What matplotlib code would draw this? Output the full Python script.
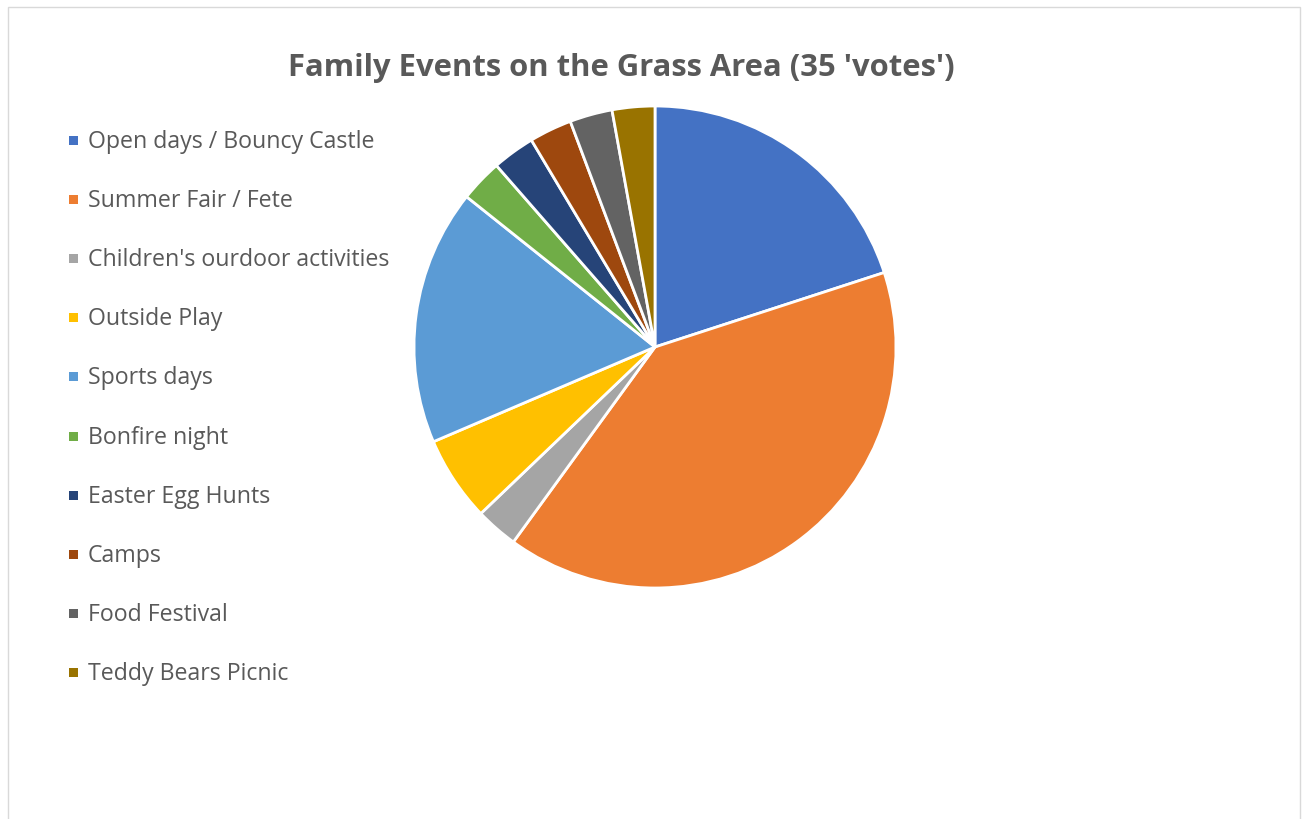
import matplotlib.pyplot as plt
from matplotlib.patches import Rectangle

# vote counts per event (35 in total)
labels = [
    "Open days / Bouncy Castle",
    "Summer Fair / Fete",
    "Children's ourdoor activities",
    "Outside Play",
    "Sports days",
    "Bonfire night",
    "Easter Egg Hunts",
    "Camps",
    "Food Festival",
    "Teddy Bears Picnic",
]
votes = [7, 14, 1, 2, 6, 1, 1, 1, 1, 1]
colors = ["#4472C4", "#ED7D31", "#A5A5A5", "#FFC000", "#5B9BD5",
          "#70AD47", "#264478", "#9E480E", "#636363", "#997300"]

W, H = 1308, 819
fig = plt.figure(figsize=(W / 100, H / 100), dpi=100)
plt.rcParams['font.family'] = ['Open Sans', 'DejaVu Sans']

# chart frame
fig.add_artist(Rectangle((8 / W, -0.01), 1292 / W, 1 - 7 / H + 0.01,
                         transform=fig.transFigure, fill=False,
                         edgecolor="#D9D9D9", linewidth=1))

# pie, centred at (655, 347) px with ~240 px radius
cx, cy, r = 655, 347, 241
ax = fig.add_axes([(cx - r) / W, 1 - (cy + r) / H, 2 * r / W, 2 * r / H])
ax.pie(votes, colors=colors, startangle=90, counterclock=False,
       wedgeprops=dict(edgecolor="white", linewidth=2))
ax.set_xlim(-1, 1)
ax.set_ylim(-1, 1)
ax.set_aspect("equal")
ax.axis("off")

fig.text(621 / W, 1 - 68 / H, "Family Events on the Grass Area (35 'votes')",
         ha="center", va="center", fontsize=22.3, fontweight="bold", color="#595959")

# legend down the left side
for i, (lab, col) in enumerate(zip(labels, colors)):
    y = 141 + i * 59.1
    fig.add_artist(Rectangle((69 / W, 1 - (y + 4) / H), 9 / W, 9 / H,
                             transform=fig.transFigure, facecolor=col,
                             edgecolor="none"))
    fig.text(88 / W, 1 - (y + 1) / H, lab, ha="left", va="center",
             fontsize=16.7, color="#595959")

fig.savefig("out.png", dpi=100)
